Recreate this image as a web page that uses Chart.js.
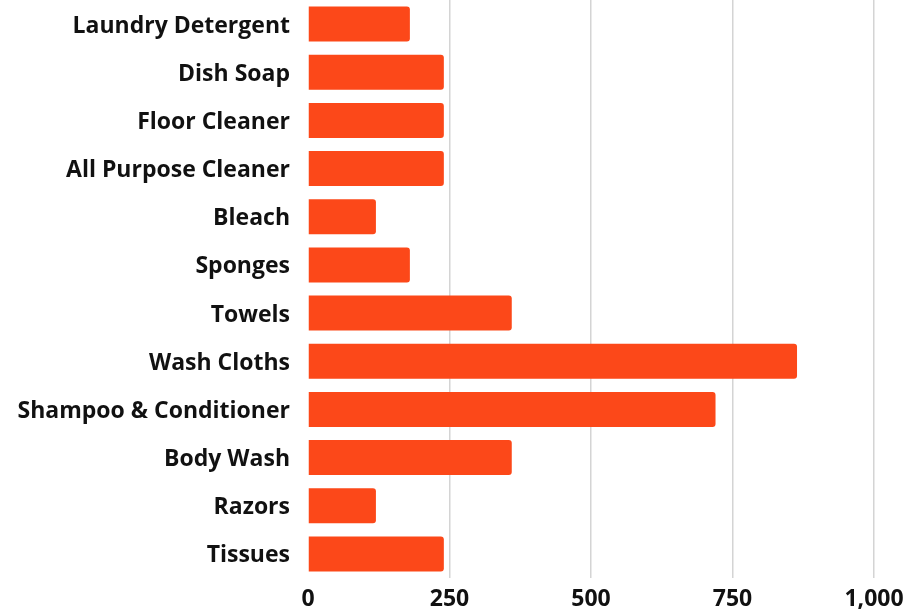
<!DOCTYPE html>
<html>
<head>
<meta charset="utf-8">
<script src="https://cdn.jsdelivr.net/npm/chart.js@4.4.0/dist/chart.umd.min.js"></script>
<style>
    html, body { margin: 0; padding: 0; background: #ffffff; }
    #wrap { width: 911px; height: 614px; position: relative; }
</style>
</head>
<body>
<div id="wrap"><canvas id="chart"></canvas></div>
<script>
const categories = [
    'Laundry Detergent', 'Dish Soap', 'Floor Cleaner', 'All Purpose Cleaner',
    'Bleach', 'Sponges', 'Towels', 'Wash Cloths',
    'Shampoo & Conditioner', 'Body Wash', 'Razors', 'Tissues'
];
const quantities = [180, 240, 240, 240, 120, 180, 360, 864, 720, 360, 120, 240];
const xTicks     = [0, 250, 500, 750, 1000];

const FONT = '"Open Sans", sans-serif';

const chart = new Chart(document.getElementById('chart').getContext('2d'), {
    type: 'bar',
    data: {
        labels: categories,
        datasets: [{
            data: quantities,
            backgroundColor: '#fc4819',
            borderRadius: 3,
            borderSkipped: 'start',
            barPercentage: 0.727,
            categoryPercentage: 1,
        }]
    },
    options: {
        indexAxis: 'y',
        animation: false,
        responsive: true,
        maintainAspectRatio: false,
        layout: { padding: 0 },
        plugins: {
            legend: { display: false },
            tooltip: { enabled: false },
        },
        scales: {
            x: {
                min: 0, max: 1000,
                afterBuildTicks: s => { s.ticks = xTicks.map(v => ({ value: v })); },
                // fixed axis band so the plot ends at the same place as the original
                afterFit: s => { s.height = 36; s.paddingRight = 37; },
                ticks: {
                    color: '#111111',
                    padding: 8,
                    maxRotation: 0,
                    font: { family: FONT, size: 23, weight: 'bold' },
                    callback: v => v.toLocaleString('en-US'),
                },
                grid: {
                    drawTicks: false,
                    lineWidth: 1.5,
                    color: ctx => ctx.tick && ctx.tick.value === 0 ? 'rgba(0,0,0,0)' : '#d4d4d4',
                },
                border: { display: false },
            },
            y: {
                afterFit: s => { s.width = 308; s.paddingTop = 0; s.paddingBottom = 0; },
                ticks: {
                    color: '#111111',
                    padding: 18,
                    labelOffset: 2,
                    font: { family: FONT, size: 23, weight: 'bold' },
                },
                grid: { display: false, drawTicks: false },
                border: { display: false },
            }
        }
    }
});
</script>
</body>
</html>
